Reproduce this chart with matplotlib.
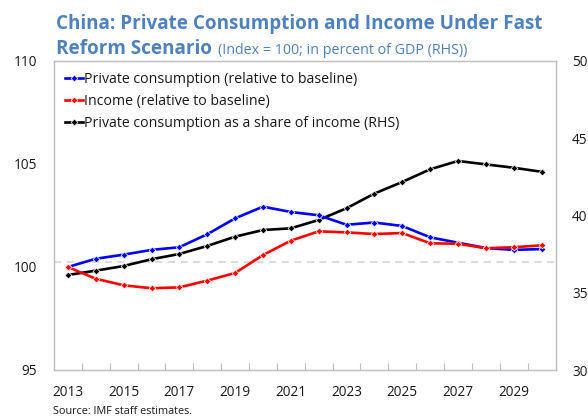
import matplotlib
matplotlib.use("Agg")
import matplotlib.pyplot as plt

plt.rcParams['font.family'] = ['Open Sans', 'DejaVu Sans']

years = list(range(2013, 2031))
consumption = [100.0, 100.40, 100.60, 100.83, 100.96, 101.59, 102.36, 102.93, 102.67,
               102.51, 102.05, 102.16, 101.99, 101.44, 101.18, 100.92, 100.83, 100.87]
income = [100.0, 99.43, 99.11, 98.97, 99.01, 99.34, 99.71, 100.58, 101.28,
          101.73, 101.68, 101.60, 101.65, 101.15, 101.13, 100.91, 100.96, 101.05]
share_of_income = [36.15, 36.43, 36.73, 37.17, 37.51, 38.03, 38.63, 39.06, 39.17,
                   39.71, 40.47, 41.42, 42.17, 42.99, 43.53, 43.31, 43.09, 42.83]
baseline_share = 37.0

left_ticks = [95, 100, 105, 110]
right_ticks = [30, 35, 40, 45, 50]
labels = ["Private consumption (relative to baseline)",
          "Income (relative to baseline)",
          "Private consumption as a share of income (RHS)"]

title_color = '#4f81bd'
spine_color = '#bfbfbf'
text_color = '#1a1a1a'

fig = plt.figure(figsize=(5.88, 4.20), dpi=100)
ax = fig.add_axes([54 / 588, 50 / 420, (555.5 - 54) / 588, (370 - 61) / 420])
ax2 = ax.twinx()

x = list(range(len(years)))
kw = dict(lw=1.9, marker='D', markersize=3.5, markeredgewidth=0.5, markeredgecolor='white')
l1, = ax.plot(x, consumption, color='#0000ff', label=labels[0], zorder=3, **kw)
l2, = ax.plot(x, income, color='#ff0000', label=labels[1], zorder=4, **kw)
ax2.axhline(baseline_share, color='#d9d9d9', lw=1.3, ls=(0, (4, 3)), zorder=1)
l3, = ax2.plot(x, share_of_income, color='black', label=labels[2], zorder=3, **kw)

ax.set_xlim(-0.5, len(years) - 0.5)
ax.set_ylim(95, 110)
ax2.set_ylim(30, 50)
ax.set_yticks(left_ticks)
ax2.set_yticks(right_ticks)

ax.set_xticks(x[::2])
ax.set_xticklabels([str(y) for y in years[::2]])
ax.set_xticks([i + 0.5 for i in range(len(years) - 1)], minor=True)
ax.tick_params(axis='x', which='major', length=0, pad=11, labelsize=9.8, labelcolor=text_color)
ax.tick_params(axis='x', which='minor', length=5, direction='in', color=spine_color, width=0.8)
ax.tick_params(axis='y', length=0, pad=12, labelsize=9.8, labelcolor=text_color)
ax2.tick_params(axis='y', length=0, pad=12, labelsize=9.8, labelcolor=text_color)

for a in (ax, ax2):
    for s in a.spines.values():
        s.set_color(spine_color)
        s.set_linewidth(0.9)

ax.set_zorder(ax2.get_zorder() + 1)
ax.patch.set_visible(False)

leg = ax.legend(handles=[l1, l2, l3], loc='upper left', frameon=False,
                fontsize=10.2, handlelength=1.3, handletextpad=0.1,
                borderaxespad=0.35, labelspacing=0.5, bbox_to_anchor=(0.0, 1.0))
for t in leg.get_texts():
    t.set_color(text_color)

# Two-line title: bold heading with a lighter units note on the second line
fig.text(56 / 588, 1 - 29 / 420, "China: Private Consumption and Income Under Fast",
         fontsize=13.6, fontweight='bold', color=title_color, va='baseline')
t2 = fig.text(56 / 588, 1 - 54 / 420, "Reform Scenario",
              fontsize=13.6, fontweight='bold', color=title_color, va='baseline')
fig.canvas.draw()
bb = t2.get_window_extent()
fig.text((bb.x1 + 6) / 588, 1 - 54 / 420, "(Index = 100; in percent of GDP (RHS))",
         fontsize=10.3, color=title_color, va='baseline')

fig.text(53 / 588, 1 - 412 / 420, "Source: IMF staff estimates.",
         fontsize=7.8, color=text_color, va='center')

fig.savefig("out.png", dpi=100)
